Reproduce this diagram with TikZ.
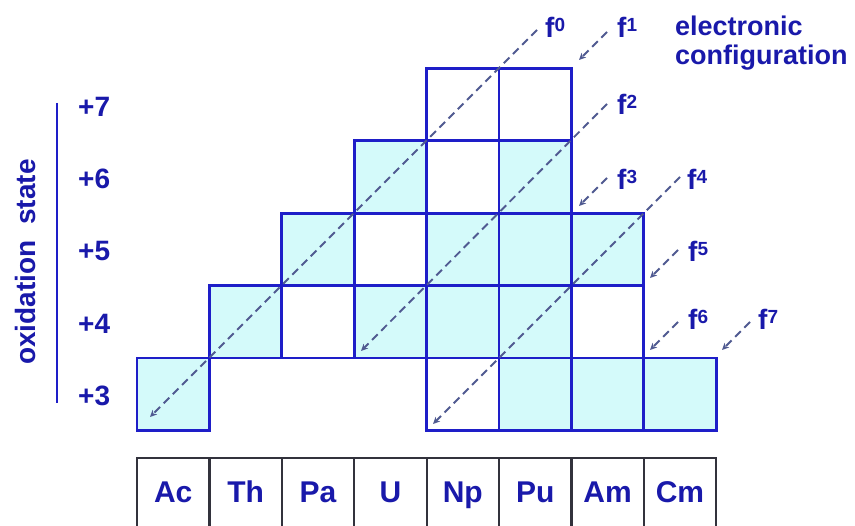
\documentclass[tikz,border=0pt]{standalone}
\usepackage{fontspec}
\setmainfont{Liberation Sans}
\usetikzlibrary{arrows.meta,calc}
\definecolor{cellblue}{RGB}{30,30,200}
\definecolor{cellfill}{RGB}{212,250,250}
\definecolor{txtblue}{RGB}{25,25,170}
\definecolor{dashcol}{RGB}{80,90,145}
\definecolor{boxdark}{RGB}{50,50,60}
\newcommand\fsupx[1]{\raisebox{6.5pt}{\fontsize{19}{19}\selectfont\bfseries #1}}
\begin{document}
\begin{tikzpicture}[x=1pt,y=-1pt,
  cell/.style={draw=cellblue,line width=2.8pt,minimum width=72.4pt,minimum height=72.4pt,inner sep=0pt,outer sep=0pt},
  full/.style={cell,fill=cellfill},
  empty/.style={cell,fill=white},
  elbox/.style={draw=boxdark,line width=2.2pt,minimum width=72.4pt,minimum height=80pt,inner sep=0pt,
    text height=14pt,text depth=4pt,font=\fontsize{30}{30}\selectfont\bfseries,text=txtblue},
  oxlab/.style={font=\fontsize{28}{28}\selectfont\bfseries,text=txtblue,inner sep=0pt,anchor=base west},
  flab/.style={font=\fontsize{28}{28}\selectfont\bfseries,text=txtblue,inner sep=0pt,anchor=base west},
  eclab/.style={font=\fontsize{27}{27}\selectfont\bfseries,text=txtblue,inner sep=0pt,anchor=base west},
  fline/.style={draw=dashcol,line width=1.9pt,dash pattern=on 8pt off 5pt,-{Stealth[length=7pt,width=6.5pt]}},
]
\useasboundingbox (0,0) rectangle (855,526);
\clip (0,0) rectangle (855,526);
\fill[white] (0,0) rectangle (855,526);
% grid cells
\foreach \i/\s/\st in {0/3/full,1/4/full,2/4/empty,2/5/full,3/4/full,3/5/empty,3/6/full,
  4/3/empty,4/4/full,4/5/full,4/6/empty,4/7/empty,5/3/full,5/4/full,5/5/full,5/6/full,5/7/empty,
  6/3/full,6/4/empty,6/5/full,7/3/full}
  \node[\st] (c-\i-\s) at ({173.2+72.4*\i},{394.2-72.4*(\s-3)}) {};
% element boxes
\foreach \i/\e in {0/Ac,1/Th,2/Pa,3/U,4/Np,5/Pu,6/Am,7/Cm}
  \node[elbox] (e-\e) at ({173.2+72.4*\i},498) {\e};
% oxidation state labels
\foreach \s in {3,...,7}
  \node[oxlab] (ox\s) at (78,{405.7-72.4*(\s-3)}) {+\s};
\node[rotate=90,font=\fontsize{28}{28}\selectfont\bfseries,text=txtblue,inner sep=0pt] (oxs) at (25,262) {oxidation\ \ state};
\coordinate (vl1) at (57,103);
\coordinate (vl2) at (57,403);
\draw[cellblue,line width=2pt] (vl1) -- (vl2);
% electronic configuration
\node[eclab] (ec1) at (675,36) {electronic};
\node[eclab] (ec2) at (675,65) {configuration};
% f labels
\node[flab] (lf0) at (545,38) {f\fsupx{0}};
\node[flab] (lf1) at (617,38) {f\fsupx{1}};
\node[flab] (lf2) at (617,115) {f\fsupx{2}};
\node[flab] (lf3) at (617,190) {f\fsupx{3}};
\node[flab] (lf4) at (687,190) {f\fsupx{4}};
\node[flab] (lf5) at (688,262) {f\fsupx{5}};
\node[flab] (lf6) at (688,330) {f\fsupx{6}};
\node[flab] (lf7) at (758,330) {f\fsupx{7}};
% dashed arrows
\coordinate (f0s) at (537,30);  \coordinate (f0e) at (150,417);
\coordinate (f1s) at (607,32);  \coordinate (f1e) at (579,60);
\coordinate (f2s) at (607,104); \coordinate (f2e) at (361,351);
\coordinate (f3s) at (607,178); \coordinate (f3e) at (579,206);
\coordinate (f4s) at (680,177); \coordinate (f4e) at (433,424);
\coordinate (f5s) at (678,250); \coordinate (f5e) at (650,278);
\coordinate (f6s) at (678,322); \coordinate (f6e) at (650,350);
\coordinate (f7s) at (750,322); \coordinate (f7e) at (722,350);
\foreach \k in {0,...,7}
  \draw[fline] (f\k s) -- (f\k e);
\end{tikzpicture}
\end{document}
